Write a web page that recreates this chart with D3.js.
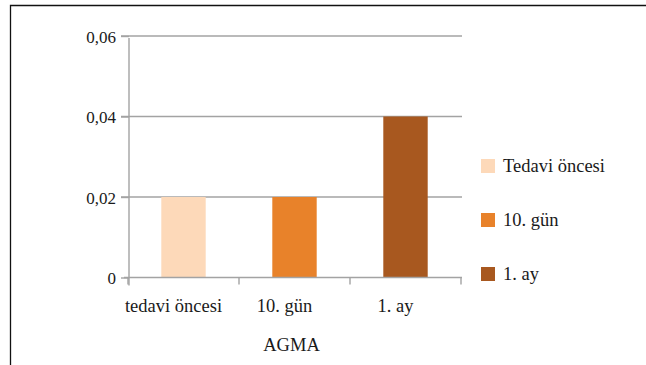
<!DOCTYPE html>
<html>
<head>
<meta charset="utf-8">
<script src="https://cdn.jsdelivr.net/npm/d3@7"></script>
</head>
<body style="margin:0;background:#fff">
<svg id="chart" width="646" height="365" style="display:block"></svg>
<script>
// AGMA measurements at three time points
const categories = ["tedavi öncesi", "10. gün", "1. ay"];
const seriesNames = ["Tedavi öncesi", "10. gün", "1. ay"];
const values = [0.02, 0.02, 0.04];
const colors = ["#fdd9b9", "#e8822a", "#a8581f"];
const yTicks = [0, 0.02, 0.04, 0.06];
const yTickLabels = ["0", "0,02", "0,04", "0,06"];
const axisTitle = "AGMA";

const FONT = "Liberation Serif";
const INK = "#1a1a1a";
const svg = d3.select("#chart");

// Frame lines (top and left)
svg.append("path")
  .attr("d", "M10.5,365 L10.5,5.5 L646,5.5")
  .attr("fill", "none")
  .attr("stroke", "#111")
  .attr("stroke-width", 1.3);

const x = d3.scaleBand().domain(categories).range([128, 461]).padding(0);
const y = d3.scaleLinear().domain([0, 0.06]).range([277.5, 36]);

const grid = "#a3a3a3";

// Horizontal gridlines
svg.append("g").selectAll("line")
  .data(yTicks.slice(1))
  .join("line")
  .attr("x1", 121).attr("x2", 462)
  .attr("y1", d => y(d)).attr("y2", d => y(d))
  .attr("stroke", grid).attr("stroke-width", 1.4);

// Y axis
const yAxis = d3.axisLeft(y)
  .tickValues(yTicks)
  .tickFormat((d, i) => yTickLabels[i])
  .tickSize(8)
  .tickPadding(5);
const gy = svg.append("g").attr("transform", "translate(129,0)").call(yAxis)
  .attr("font-family", FONT).attr("font-size", 17);
gy.select(".domain").remove();
gy.selectAll(".tick line").attr("stroke", grid).attr("stroke-width", 1.4);
gy.selectAll(".tick text")
  .attr("font-family", FONT)
  .attr("font-size", 17)
  .attr("fill", INK)
  .attr("dy", "0.38em");
gy.append("line")
  .attr("x1", 0).attr("x2", 0)
  .attr("y1", y(0.06) + 2).attr("y2", y(0) + 8)
  .attr("stroke", grid).attr("stroke-width", 1.4);

// Bars
svg.append("g").selectAll("rect")
  .data(values)
  .join("rect")
  .attr("x", (d, i) => x(categories[i]) + x.bandwidth() * 0.3)
  .attr("width", x.bandwidth() * 0.4)
  .attr("y", d => y(d))
  .attr("height", d => y(0) - y(d))
  .attr("fill", (d, i) => colors[i]);

// X axis
const xAxis = d3.axisBottom(x).tickSize(0).tickPadding(21);
const gx = svg.append("g").attr("transform", `translate(0,${y(0)})`).call(xAxis)
  .attr("font-family", FONT).attr("font-size", 18.5);
gx.select(".domain").remove();
gx.selectAll(".tick text")
  .attr("font-family", FONT)
  .attr("font-size", 18.5)
  .attr("fill", INK)
  .attr("dx", -10);
gx.append("line")
  .attr("x1", 124).attr("x2", 462)
  .attr("stroke", grid).attr("stroke-width", 1.4);
gx.selectAll(".bound")
  .data([...categories.map(c => x(c)), x.range()[1]])
  .join("line")
  .attr("class", "bound")
  .attr("x1", d => d).attr("x2", d => d)
  .attr("y1", 0).attr("y2", 7)
  .attr("stroke", grid).attr("stroke-width", 1.4);

// Axis title
svg.append("text")
  .attr("x", (x.range()[0] + x.range()[1]) / 2 - 3)
  .attr("y", 351)
  .attr("text-anchor", "middle")
  .attr("fill", INK)
  .attr("font-family", FONT)
  .attr("font-size", 18.5)
  .text(axisTitle);

// Legend
const legend = svg.append("g").attr("transform", "translate(481,166)");
const items = legend.selectAll("g")
  .data(seriesNames)
  .join("g")
  .attr("transform", (d, i) => `translate(0,${i * 54})`);
items.append("rect")
  .attr("x", 0).attr("y", -7)
  .attr("width", 14).attr("height", 14)
  .attr("fill", (d, i) => colors[i]);
items.append("text")
  .attr("x", 22).attr("y", 0)
  .attr("dy", "0.35em")
  .attr("fill", INK)
  .attr("font-family", FONT)
  .attr("font-size", 18.5)
  .text(d => d);
</script>
</body>
</html>
